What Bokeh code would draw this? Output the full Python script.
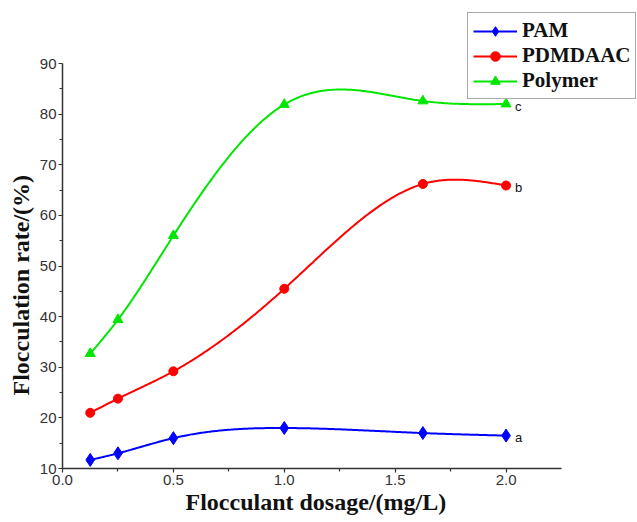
import numpy as np
from bokeh.plotting import figure
from bokeh.models import Legend, LegendItem, Range1d, FixedTicker, NumeralTickFormatter, Title
from bokeh.embed import file_html
from bokeh.resources import INLINE
from bokeh.core.properties import value

# ---- data ----
dosage = [0.125, 0.25, 0.5, 1.0, 1.625, 2.0]
pam = [11.7, 13.0, 16.0, 18.0, 17.0, 16.5]
pdmdaac = [21.0, 23.8, 29.2, 45.5, 66.2, 65.9]
polymer = [32.7, 39.4, 56.0, 81.9, 82.6, 82.0]
series_names = ["PAM", "PDMDAAC", "Polymer"]
end_labels = ["a", "b", "c"]
x_ticks = [0.0, 0.5, 1.0, 1.5, 2.0]
x_minor = [0.25, 0.75, 1.25, 1.75]
y_ticks = [10, 20, 30, 40, 50, 60, 70, 80, 90]
y_minor = [15, 25, 35, 45, 55, 65, 75, 85]
x_title = "Flocculant dosage/(mg/L)"
y_title = "Flocculation rate/(%)"


def natural_cubic(xs, ys, n=300):
    x = np.asarray(xs, float)
    y = np.asarray(ys, float)
    k = len(x)
    h = np.diff(x)
    A = np.zeros((k, k))
    b = np.zeros(k)
    A[0, 0] = 1
    A[-1, -1] = 1
    for i in range(1, k - 1):
        A[i, i - 1] = h[i - 1]
        A[i, i] = 2 * (h[i - 1] + h[i])
        A[i, i + 1] = h[i]
        b[i] = 3 * ((y[i + 1] - y[i]) / h[i] - (y[i] - y[i - 1]) / h[i - 1])
    c = np.linalg.solve(A, b)
    bb = (y[1:] - y[:-1]) / h - h * (2 * c[:-1] + c[1:]) / 3
    d = (c[1:] - c[:-1]) / (3 * h)
    xx = np.linspace(x[0], x[-1], n)
    idx = np.clip(np.searchsorted(x, xx, side="right") - 1, 0, k - 2)
    dx = xx - x[idx]
    yy = y[idx] + bb[idx] * dx + c[idx] * dx ** 2 + d[idx] * dx ** 3
    return xx, yy


# axis span in pixels: x 0..2.25 over 499 px, y 10..90 over 405 px;
# the frame is extended up/right so the legend (partly outside the axes) is not clipped
X_LO, X_HI, Y_LO, Y_HI = 0.0, 2.25, 10, 90
FRAME_W, FRAME_H = 575, 468
x_max = X_LO + (X_HI - X_LO) * FRAME_W / 499
y_max = Y_LO + (Y_HI - Y_LO) * FRAME_H / 405

p = figure(width=637, height=522, output_backend="svg", toolbar_location=None,
           x_range=Range1d(X_LO, x_max), y_range=Range1d(Y_LO, y_max),
           min_border_left=62, min_border_right=0, min_border_top=0, min_border_bottom=54)
p.outline_line_color = None
p.xgrid.visible = False
p.ygrid.visible = False
p.background_fill_color = "white"
p.border_fill_color = "white"

p.xaxis.ticker = FixedTicker(ticks=x_ticks, minor_ticks=x_minor)
p.yaxis.ticker = FixedTicker(ticks=y_ticks, minor_ticks=y_minor)
p.xaxis.formatter = NumeralTickFormatter(format="0.0")
p.xaxis.bounds = (X_LO, X_HI)
p.yaxis.bounds = (Y_LO, Y_HI)
for ax in (p.xaxis, p.yaxis):
    ax.axis_line_width = 1.5
    ax.axis_line_color = "#333333"
    ax.major_tick_line_color = "#333333"
    ax.minor_tick_line_color = "#333333"
    ax.major_tick_line_width = 1.2
    ax.minor_tick_line_width = 1.2
    ax.major_tick_in = 0
    ax.major_tick_out = 4
    ax.minor_tick_in = 0
    ax.minor_tick_out = 3
    ax.major_label_text_font = "Liberation Sans"
    ax.major_label_text_font_size = "15px"
    ax.major_label_text_color = "#333333"
    ax.major_label_standoff = 2

p.add_layout(Title(text=y_title, align="left", offset=73, vertical_align="bottom", standoff=6,
                   text_font="Liberation Serif", text_font_style="bold",
                   text_font_size="24px", text_color="#111111"), "left")
p.add_layout(Title(text=x_title, align="left", offset=123, vertical_align="top", standoff=2,
                   text_font="Liberation Serif", text_font_style="bold",
                   text_font_size="24px", text_color="#111111"), "below")

colors = ["#0000ff", "#ff0000", "#00e600"]
markers = ["diamond", "circle", "triangle"]
sizes = [13, 9, 10]
items = []
for name, vals, col, mk, sz in zip(series_names, [pam, pdmdaac, polymer], colors, markers, sizes):
    xs, ys = natural_cubic(dosage, vals)
    ln = p.line(xs, ys, line_color=col, line_width=2)
    sc = p.scatter(dosage, vals, marker=mk, size=sz, fill_color=col, line_color=col)
    items.append(LegendItem(label=name, renderers=[ln, sc]))

p.text(x=[dosage[-1]] * 3, y=[pam[-1], pdmdaac[-1], polymer[-1]], text=end_labels,
       x_offset=9, y_offset=2, text_baseline="middle", text_align="left",
       text_font=value("Liberation Sans"), text_font_size="13px", text_color="#111111")

legend = Legend(items=items, location=(405, 369), orientation="vertical",
                label_text_font="Liberation Serif", label_text_font_style="bold",
                label_text_font_size="21px", label_text_color="#111111",
                border_line_color="#555555", border_line_width=1.5,
                background_fill_color="white", background_fill_alpha=1.0,
                padding=5, spacing=0, label_height=24, glyph_height=24, glyph_width=44,
                label_standoff=5, margin=0)
p.add_layout(legend)

open("out.html", "w").write(file_html(p, INLINE))
